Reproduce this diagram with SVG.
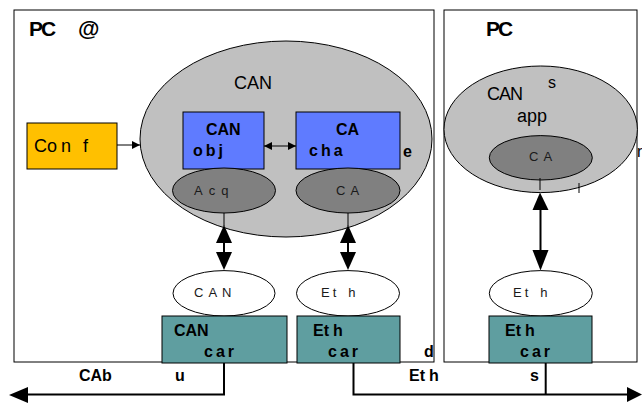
<svg xmlns="http://www.w3.org/2000/svg" width="642" height="403" viewBox="0 0 642 403">
  <defs>
    <marker id="sm" viewBox="0 0 10 10" refX="10" refY="5" markerWidth="10" markerHeight="8" markerUnits="userSpaceOnUse" orient="auto-start-reverse">
      <path d="M0,0 L10,5 L0,10 z" fill="#000"/>
    </marker>
  </defs>
  <style>
    text { font-family: "Liberation Sans", Arial, sans-serif; fill: #000; }
    .frame { fill: #fff; stroke: #000; stroke-width: 1; }
    .big { fill: #c0c0c0; stroke: #000; stroke-width: 1; }
    .dark { fill: #808080; stroke: #000; stroke-width: 1; }
    .white { fill: #fff; stroke: #000; stroke-width: 1; }
    .blue { fill: #5f7bff; stroke: #000; stroke-width: 1; }
    .teal { fill: #5f9ea0; stroke: #000; stroke-width: 1; }
    .conf { fill: #ffc000; stroke: #000; stroke-width: 1; }
    .t18 { font-size: 18px; }
    .h20 { font-size: 21px; font-weight: bold; letter-spacing: -2px; }
    .b16 { font-size: 16px; font-weight: bold; }
    .sp { letter-spacing: 3px; }
    .s13 { font-size: 13px; letter-spacing: 5px; fill: #1a1a1a; }
    .ln { stroke: #000; stroke-width: 1; fill: none; }
    .bus { stroke: #000; stroke-width: 2; fill: none; }
    .head { fill: #000; }
  </style>

  <!-- PC frames -->
  <g id="pc-left">
    <rect class="frame" x="14" y="10" width="420" height="352"/>
    <text class="h20" x="29" y="36">PC</text>
    <text class="h20" x="78" y="36" style="font-size:22px">@</text>
  </g>
  <g id="pc-right">
    <rect class="frame" x="444" y="10" width="193" height="352"/>
    <text class="h20" x="486" y="36">PC</text>
  </g>

  <!-- CAN application ellipse (left) -->
  <g id="can-app-left">
    <ellipse class="big" cx="286" cy="139" rx="146" ry="98"/>
    <text class="t18" x="234" y="89">CAN</text>
    <text class="b16" x="403" y="157">e</text>
  </g>

  <g id="conf">
    <rect class="conf" x="27" y="123" width="90" height="46"/>
    <text class="t18" x="34" y="152">Co<tspan dx="4">n</tspan><tspan dx="12">f</tspan></text>
  </g>

  <g id="can-obj">
    <rect class="blue" x="183" y="112" width="81" height="57"/>
    <text class="b16" x="206" y="135">CAN</text>
    <text class="b16 sp" x="193" y="156">obj</text>
  </g>

  <g id="can-cha">
    <rect class="blue" x="296" y="112" width="104" height="57"/>
    <text class="b16" x="336" y="135">CA</text>
    <text class="b16 sp" x="309" y="156">cha</text>
  </g>

  <g id="acq">
    <ellipse class="dark" cx="224" cy="190.5" rx="51.5" ry="22.5"/>
    <text class="s13" x="194" y="195" style="letter-spacing:6px">Acq</text>
  </g>
  <g id="ca-left">
    <ellipse class="dark" cx="348" cy="190.5" rx="52" ry="22.5"/>
    <text class="s13" x="336" y="195">CA</text>
  </g>

  <g id="can-drv">
    <ellipse class="white" cx="224" cy="293.3" rx="51" ry="22.7"/>
    <text class="s13" x="194" y="297">CAN</text>
  </g>
  <g id="eth-drv-left">
    <ellipse class="white" cx="348" cy="293.3" rx="51.5" ry="22.7"/>
    <text class="s13" x="321" y="297" style="letter-spacing:3px">Et<tspan dx="9">h</tspan></text>
  </g>

  <g id="can-card">
    <rect class="teal" x="162" y="316" width="125" height="47"/>
    <text class="b16" x="174" y="336">CAN</text>
    <text class="b16 sp" x="204" y="357">car</text>
  </g>
  <g id="eth-card-left">
    <rect class="teal" x="297" y="316" width="103" height="47"/>
    <text class="b16" x="313" y="336">Et<tspan dx="4">h</tspan></text>
    <text class="b16 sp" x="328" y="357">car</text>
    <text class="b16" x="424" y="357">d</text>
  </g>

  <!-- right PC -->
  <g id="can-app-right">
    <ellipse class="big" cx="540.7" cy="129.3" rx="96.7" ry="63.3"/>
    <text class="t18" x="487" y="100" letter-spacing="-1">CAN</text>
    <text class="t18" x="548" y="88" style="font-size:16px">s</text>
    <text class="t18" x="517" y="122">app</text>
    <text class="t18" x="637" y="157" style="font-size:16px">r</text>
  </g>
  <g id="ca-right">
    <ellipse class="dark" cx="540.8" cy="157.8" rx="51.5" ry="22.2"/>
    <text class="s13" x="529" y="161">CA</text>
  </g>
  <g id="eth-drv-right">
    <ellipse class="white" cx="540.8" cy="293.3" rx="51.5" ry="22.7"/>
    <text class="s13" x="513" y="297" style="letter-spacing:3px">Et<tspan dx="9">h</tspan></text>
  </g>
  <g id="eth-card-right">
    <rect class="teal" x="489" y="316" width="103" height="47"/>
    <text class="b16" x="505" y="336">Et<tspan dx="4">h</tspan></text>
    <text class="b16 sp" x="520" y="357">car</text>
  </g>

  <!-- bus labels -->
  <g id="bus-labels">
    <text class="b16" x="79" y="381">CAb</text>
    <text class="b16" x="175" y="381">u</text>
    <text class="b16" x="409" y="381">Et<tspan dx="4">h</tspan></text>
    <text class="b16" x="530" y="381">s</text>
  </g>

  <!-- connectors -->
  <g id="connectors">
    <line class="ln" x1="117" y1="145" x2="140" y2="145" marker-end="url(#sm)"/>
    <line class="ln" x1="264" y1="146" x2="296" y2="146" marker-start="url(#sm)" marker-end="url(#sm)"/>

    <!-- Acq to CAN driver -->
    <line class="ln" x1="224" y1="213" x2="224" y2="226"/>
    <polygon class="head" points="224,225 216,243 232,243"/>
    <line class="bus" x1="224" y1="243" x2="224" y2="252"/>
    <polygon class="head" points="224,270 216,252 232,252"/>

    <!-- CA to Ethernet driver -->
    <line class="ln" x1="348" y1="213" x2="348" y2="226"/>
    <polygon class="head" points="348,225 340,243 356,243"/>
    <line class="bus" x1="348" y1="243" x2="348" y2="252"/>
    <polygon class="head" points="348,270 340,252 356,252"/>

    <!-- right CA to Ethernet driver -->
    <line class="ln" x1="540" y1="178" x2="540" y2="190"/>
    <line class="ln" x1="579" y1="183" x2="579" y2="193"/>
    <polygon class="head" points="540,192.5 532.5,210 548.5,210"/>
    <line class="bus" x1="540.5" y1="210" x2="540.5" y2="250"/>
    <polygon class="head" points="540.5,270.5 532.5,250 548.5,250"/>

    <!-- CAN bus -->
    <polyline class="bus" points="224,363 224,394.5 28,394.5"/>
    <polygon class="head" points="9,395 28,387 28,403"/>

    <!-- Ethernet bus -->
    <polyline class="bus" points="353.5,363 353.5,394.5 628,394.5"/>
    <line class="bus" x1="545.7" y1="363" x2="545.7" y2="394.5"/>
    <polygon class="head" points="642,394.5 627,387 627,402"/>
  </g>
</svg>
